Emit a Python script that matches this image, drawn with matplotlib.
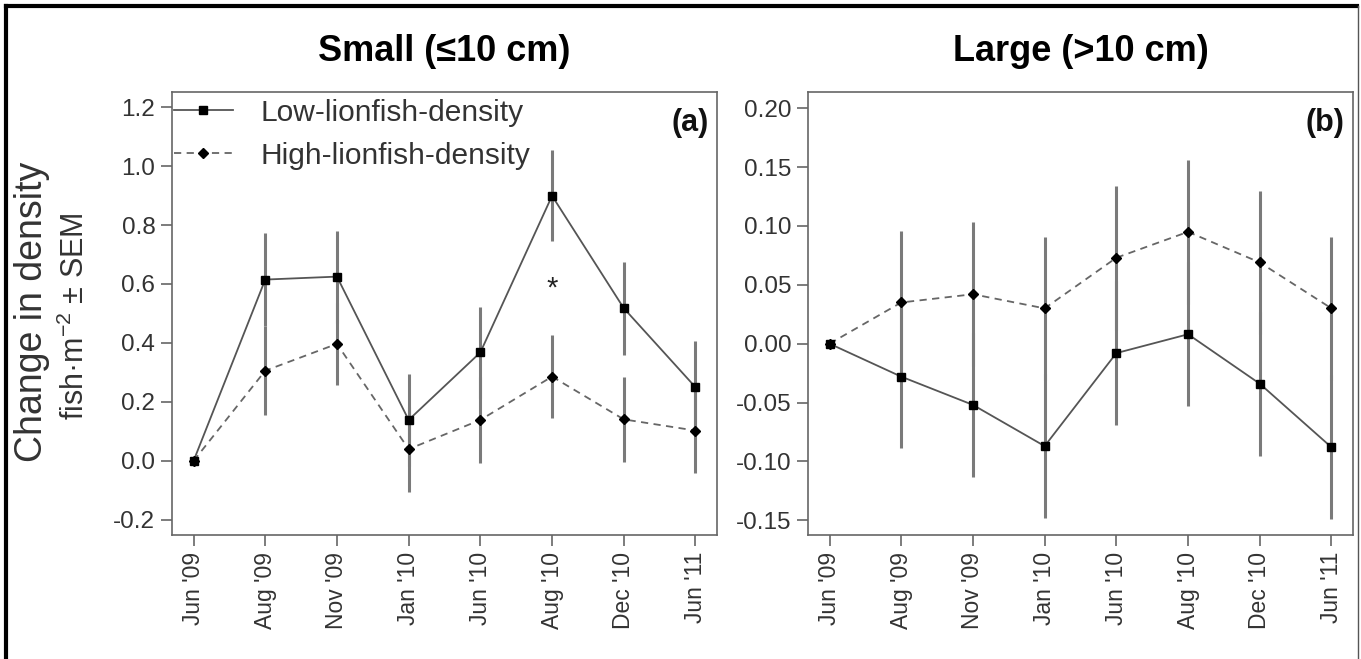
import matplotlib
matplotlib.use("Agg")
import matplotlib.pyplot as plt
from matplotlib.lines import Line2D

plt.rcParams['font.family'] = ['Liberation Sans', 'DejaVu Sans']
plt.rcParams['mathtext.fontset'] = 'custom'
plt.rcParams['mathtext.rm'] = 'Liberation Sans'
plt.rcParams['mathtext.it'] = 'Liberation Sans'

months = ["Jun '09", "Aug '09", "Nov '09", "Jan '10", "Jun '10", "Aug '10", "Dec '10", "Jun '11"]

# Small fish (<=10 cm)
small_low = [0.0, 0.615, 0.625, 0.139, 0.368, 0.899, 0.518, 0.250]
small_low_sem = [0.0, 0.158, 0.156, 0.156, 0.155, 0.154, 0.158, 0.158]
small_high = [0.0, 0.306, 0.397, 0.040, 0.139, 0.286, 0.141, 0.103]
small_high_sem = [0.0, 0.150, 0.140, 0.144, 0.147, 0.140, 0.143, 0.145]

# Large fish (>10 cm)
large_low = [0.0, -0.028, -0.052, -0.087, -0.008, 0.008, -0.034, -0.088]
large_low_sem = [0.0, 0.061, 0.061, 0.061, 0.061, 0.061, 0.061, 0.061]
large_high = [0.0, 0.035, 0.042, 0.030, 0.073, 0.095, 0.069, 0.030]
large_high_sem = [0.0, 0.061, 0.061, 0.061, 0.061, 0.061, 0.061, 0.061]

small_yticks = [-0.2, 0.0, 0.2, 0.4, 0.6, 0.8, 1.0, 1.2]
large_yticks = [-0.15, -0.10, -0.05, 0.00, 0.05, 0.10, 0.15, 0.20]

fig = plt.figure(figsize=(13.61, 6.59), dpi=100)
ax1 = fig.add_axes([0.1264, 0.1882, 0.4004, 0.6722])
ax2 = fig.add_axes([0.5937, 0.1882, 0.4004, 0.6722])

x = list(range(len(months)))
line_col = '#555555'
err_col = '#7a7a7a'
spine_col = '#666666'
tick_col = '#333333'

def draw(ax, low, low_sem, high, high_sem):
    for xi, v, s in zip(x, low, low_sem):
        if s > 0:
            ax.plot([xi, xi], [v - s, v + s], color=err_col, lw=2.2, zorder=1, solid_capstyle='butt')
    for xi, v, s in zip(x, high, high_sem):
        if s > 0:
            ax.plot([xi, xi], [v - s, v + s], color=err_col, lw=2.2, zorder=1, solid_capstyle='butt')
    ax.plot(x, high, color='#666666', lw=1.3, ls=(0, (4, 3)), zorder=2)
    ax.plot(x, low, color=line_col, lw=1.3, ls='-', zorder=2)
    ax.plot(x, high, ls='none', marker='D', ms=5, color='black', zorder=3)
    ax.plot(x, low, ls='none', marker='s', ms=6, color='black', zorder=4)
    ax.set_xlim(-0.3, 7.3)
    ax.set_xticks(x)
    ax.set_xticklabels(months, rotation=90, fontsize=16.5, color=tick_col)
    for sp in ax.spines.values():
        sp.set_color(spine_col)
        sp.set_linewidth(1.2)
    ax.tick_params(direction='out', length=8, width=1.2, color=spine_col, pad=4)

draw(ax1, small_low, small_low_sem, small_high, small_high_sem)
draw(ax2, large_low, large_low_sem, large_high, large_high_sem)

ax1.set_ylim(-0.251, 1.251)
ax1.set_yticks(small_yticks)
ax1.set_yticklabels([f"{v:.1f}" for v in small_yticks], fontsize=17.5, color=tick_col)
ax2.set_ylim(-0.1625, 0.2138)
ax2.set_yticks(large_yticks)
ax2.set_yticklabels([f"{v:.2f}" for v in large_yticks], fontsize=17.5, color=tick_col)

ax1.set_title("Small (≤10 cm)", fontsize=26, fontweight='bold', pad=22)
ax2.set_title("Large (>10 cm)", fontsize=26, fontweight='bold', pad=22)

ax1.text(0.985, 0.965, "(a)", transform=ax1.transAxes, ha='right', va='top',
         fontsize=22, fontweight='bold', color='#111111')
ax2.text(0.985, 0.965, "(b)", transform=ax2.transAxes, ha='right', va='top',
         fontsize=22, fontweight='bold', color='#111111')

ax1.text(5, 0.585, "*", ha='center', va='center', fontsize=21, color='#222222')

handles = [
    Line2D([0], [0], color=line_col, lw=1.3, marker='s', ms=6, mfc='black', mec='black'),
    Line2D([0], [0], color='#666666', lw=1.3, ls=(0, (4, 3)), marker='D', ms=5, mfc='black', mec='black'),
]
leg = ax1.legend(handles, ["Low-lionfish-density", "High-lionfish-density"], loc='upper left',
                 bbox_to_anchor=(0.0, 0.988),
                 frameon=False, fontsize=21.5, handlelength=2.0, handletextpad=0.9,
                 borderaxespad=0.0, borderpad=0.05, labelspacing=0.5)
for t in leg.get_texts():
    t.set_color('#333333')

fig.text(0.0235, 0.527, "Change in density", rotation=90, ha='center', va='center',
         fontsize=27, color='#333333')
fig.text(0.055, 0.52, "fish·m$^{-2}$ ± SEM", rotation=90, ha='center', va='center',
         fontsize=22, color='#333333')

# outer frame
fig.add_artist(Line2D([0.0045, 0.0045], [0.0, 0.991], transform=fig.transFigure, color='black', lw=3))
fig.add_artist(Line2D([0.0045, 0.997], [0.991, 0.991], transform=fig.transFigure, color='black', lw=3))
fig.add_artist(Line2D([0.9975, 0.9975], [0.0, 0.991], transform=fig.transFigure, color='#555555', lw=1))

fig.savefig("out.png", dpi=100)
